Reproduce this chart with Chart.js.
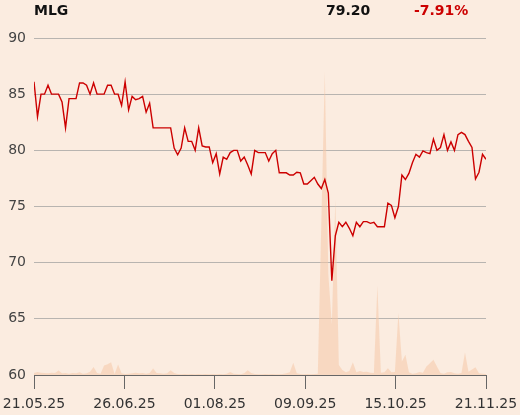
<!DOCTYPE html>
<html>
<head>
<meta charset="utf-8">
<script src="https://cdn.jsdelivr.net/npm/chart.js@4/dist/chart.umd.min.js"></script>
<style>
  html, body { margin: 0; padding: 0; background: #fbece0; }
  #wrap { position: relative; width: 520px; height: 415px; font-family: "DejaVu Sans", sans-serif; }
  .head { position: absolute; top: 2px; font-size: 14px; font-weight: bold; line-height: 16px; color: #111; }
  #chart { position: absolute; left: 0; top: 0; }
</style>
</head>
<body>
<div id="wrap">
  <canvas id="chart" width="520" height="415"></canvas>
  <div class="head" style="left:34px">MLG</div>
  <div class="head" style="left:326px">79.20</div>
  <div class="head" style="left:414px;color:#cc0000">-7.91%</div>
</div>
<script>
// closing prices, one per trading day (21.05.25 .. 21.11.25)
var prices = [
    86.1, 83.0, 85.0, 85.0, 85.8, 85.0, 85.0, 85.0, 84.3, 82.0,
    84.6, 84.6, 84.6, 86.0, 86.0, 85.8, 85.0, 86.0, 85.0, 85.0,
    85.0, 85.8, 85.8, 85.0, 85.0, 84.0, 86.1, 83.6, 84.8, 84.5,
    84.6, 84.8, 83.4, 84.2, 82.0, 82.0, 82.0, 82.0, 82.0, 82.0,
    80.2, 79.6, 80.2, 82.0, 80.8, 80.8, 80.0, 82.0, 80.4, 80.3,
    80.3, 78.9, 79.7, 77.9, 79.4, 79.2, 79.8, 80.0, 80.0, 79.05,
    79.4, 78.7, 77.9, 80.0, 79.8, 79.8, 79.8, 79.05, 79.7, 80.0,
    78.0, 78.0, 78.0, 77.8, 77.8, 78.05, 78.0, 77.0, 77.0, 77.3,
    77.6, 77.0, 76.6, 77.4, 76.2, 68.4, 72.4, 73.6, 73.2, 73.6,
    73.06, 72.4, 73.6, 73.2, 73.65, 73.65, 73.5, 73.6, 73.2, 73.2,
    73.2, 75.3, 75.1, 74.0, 75.0, 77.8, 77.4, 77.95, 78.9, 79.65,
    79.4, 79.95, 79.8, 79.7, 81.0, 80.0, 80.25, 81.4, 80.0, 80.75,
    80.0, 81.4, 81.6, 81.4, 80.8, 80.25, 77.45, 78.05, 79.65, 79.2
];

// traded volume, relative (hidden axis 0..100)
var volumes = [
    0.6, 0.9, 0.7, 0.6, 0.5, 0.7, 0.6, 1.3, 0.5, 0.6,
    0.4, 0.6, 0.5, 0.8, 0.4, 0.5, 1.0, 2.4, 0.6, 0.4,
    2.8, 3.2, 3.8, 0.3, 3.1, 0.5, 0.3, 0.4, 0.5, 0.7,
    0.5, 0.6, 0.4, 0.6, 1.9, 0.6, 0.5, 0.4, 0.5, 1.4,
    0.6, 0.3, 0.2, 0.3, 0.2, 0.3, 0.2, 0.3, 0.2, 0.3,
    0.2, 0.3, 0.2, 0.3, 0.2, 0.4, 0.9, 0.4, 0.3, 0.2,
    0.5, 1.4, 0.6, 0.3, 0.2, 0.2, 0.3, 0.2, 0.3, 0.2,
    0.2, 0.3, 0.5, 0.8, 3.6, 0.5, 0.3, 0.2, 0.3, 0.2,
    0.3, 0.4, 45, 90, 30, 15, 52, 3.0, 1.5, 0.8,
    1.2, 3.8, 0.8, 1.2, 0.9, 1.0, 0.7, 0.6, 26.5, 0.7,
    0.8, 2.0, 0.8, 0.9, 18.4, 4.0, 6.0, 0.8, 0.4, 0.5,
    0.9, 0.7, 2.5, 3.5, 4.5, 2.5, 0.6, 0.4, 0.8, 0.9,
    0.5, 0.4, 0.6, 6.7, 1.0, 1.6, 2.3, 0.5, 0.4, 0.3
];

var dateLabels = ['21.05.25', '26.06.25', '01.08.25', '09.09.25', '15.10.25', '21.11.25'];
var yTicks = [60, 65, 70, 75, 80, 85, 90];

var last = prices.length - 1;
var pricePoints = prices.map(function (v, i) { return { x: i, y: v }; });
var volPoints = volumes.map(function (v, i) { return { x: i, y: v }; });

Chart.defaults.animation = false;
Chart.defaults.font.family = '"DejaVu Sans", sans-serif';
Chart.defaults.font.size = 14;

new Chart(document.getElementById('chart'), {
    type: 'line',
    data: {
        datasets: [
            {
                data: pricePoints, yAxisID: 'y', order: 0,
                borderColor: '#cc0000', borderWidth: 1.4, pointRadius: 0, tension: 0, fill: false
            },
            {
                data: volPoints, yAxisID: 'vol', order: 1,
                borderWidth: 0, pointRadius: 0, tension: 0,
                fill: 'origin', backgroundColor: 'rgba(245, 200, 168, 0.55)'
            }
        ]
    },
    options: {
        responsive: false,
        layout: { padding: { top: 38, right: 34, left: 0, bottom: 0 } },
        plugins: { legend: { display: false }, tooltip: { enabled: false } },
        scales: {
            x: {
                type: 'linear', min: 0, max: last,
                afterBuildTicks: function (scale) {
                    scale.ticks = dateLabels.map(function (l, k) {
                        return { value: k * last / (dateLabels.length - 1) };
                    });
                },
                afterFit: function (scale) {
                    scale.height = 40;
                    scale.paddingLeft = 0;
                    scale.paddingRight = 0;
                },
                ticks: {
                    color: '#333', padding: 7, maxRotation: 0, autoSkip: false,
                    callback: function (v, k) { return dateLabels[k]; }
                },
                grid: { drawOnChartArea: false, tickLength: 14, color: '#666' },
                border: { color: '#666' }
            },
            y: {
                min: 60, max: 90,
                afterBuildTicks: function (scale) {
                    scale.ticks = yTicks.map(function (v) { return { value: v }; });
                },
                afterFit: function (scale) {
                    scale.width = 34;
                    scale.paddingTop = 0;
                    scale.paddingBottom = 0;
                },
                ticks: { color: '#444', padding: 8 },
                grid: { color: '#b8b4b0', drawTicks: false },
                border: { display: false }
            },
            vol: { display: false, min: 0, max: 100 }
        }
    }
});
</script>
</body>
</html>
